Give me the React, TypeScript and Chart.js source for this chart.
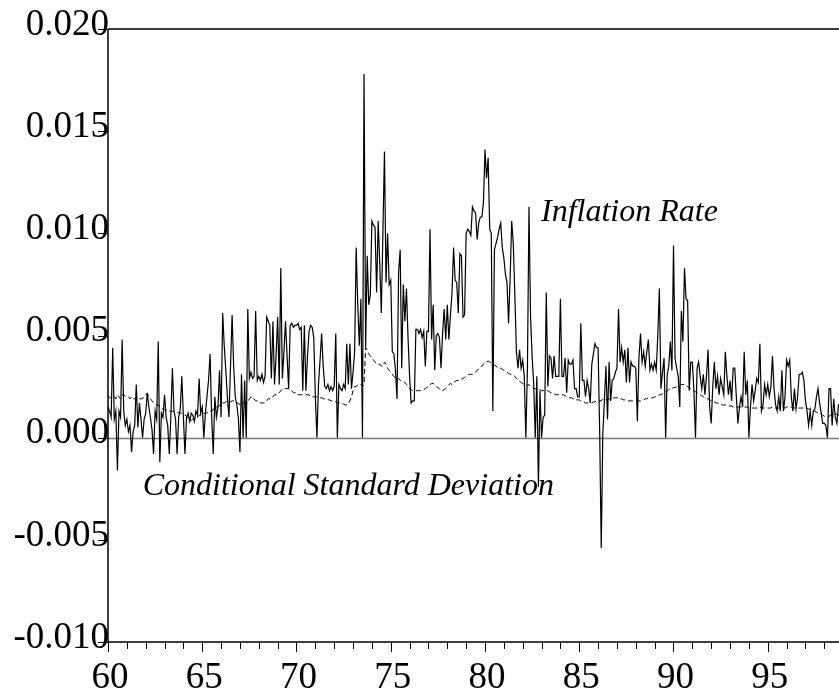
import React, { useEffect, useRef } from "react";
import { Chart, registerables } from "chart.js";

Chart.register(...registerables);

// ---------- axis / tick definitions ----------
const FIRST_YEAR = 60; // monthly data start: 1960:01
const X_MIN = 60;
const X_MAX = 98.78;
const Y_MIN = -0.01;
const Y_MAX = 0.02;
const yTickValues = [-0.01, -0.005, 0, 0.005, 0.01, 0.015, 0.02];
const yTickLabels = ["-0.010", "-0.005", "0.000", "0.005", "0.010", "0.015", "0.020"];
const xTickValues = [60, 65, 70, 75, 80, 85, 90, 95];
const xTickLabels = ["60", "65", "70", "75", "80", "85", "90", "95"];

// ---------- series (values in thousandths, monthly, one row per year) ----------
const inflationPerMille: number[] = [
  1.5, 1.3, 1.0, 4.4, 0.9, 1.3, -1.6, 1.3, 1.0, 4.8, 1.3, 0.6, // 1960
  0.9, 0.3, 0.6, -0.7, 0.3, 0.6, 2.6, 0.5, 1.7, 0.9, 0.0, 0.9, // 1961
  1.2, 2.2, 1.5, 1.0, 0.4, -0.8, 1.3, 0.9, 4.7, -1.2, 1.2, 1.0, // 1962
  2.1, 1.0, 0.6, -0.8, 1.0, 3.4, 1.3, 0.9, -0.8, 1.0, 1.4, 3.0, // 1963
  1.0, -0.8, 1.0, 1.2, 0.8, 1.2, 1.1, 0.8, 1.3, 1.1, 2.9, 1.2, // 1964
  1.5, 0.0, 1.2, 2.0, 2.8, 4.1, 1.0, -0.8, 2.0, 1.0, 1.5, 3.3, // 1965
  1.0, 6.1, 4.5, 3.3, 2.0, 1.0, 3.5, 6.0, 3.5, 2.0, 1.6, 0.95, // 1966
  -0.7, 3.1, 0.0, 2.8, 0.0, 6.3, 2.9, 3.2, 2.9, 3.0, 6.2, 2.8, // 1967
  3.0, 2.8, 3.1, 2.7, 3.0, 5.9, 5.7, 5.5, 2.9, 5.7, 2.6, 4.0, // 1968
  5.9, 2.6, 8.3, 2.9, 4.2, 5.7, 4.0, 2.4, 5.5, 5.6, 5.4, 5.5, // 1969
  5.5, 5.6, 5.3, 5.4, 2.3, 5.5, 2.3, 4.0, 5.2, 5.5, 5.4, 4.9, // 1970
  2.0, 0.0, 2.6, 3.8, 5.1, 3.5, 2.5, 2.4, 2.6, 2.3, 2.5, 2.3, // 1971
  2.5, 5.1, 0.0, 2.6, 2.4, 2.3, 2.6, 2.4, 4.6, 2.6, 4.6, 2.4, // 1972
  3.2, 4.2, 9.3, 6.5, 4.5, 6.8, 0.0, 17.8, 4.4, 8.9, 6.5, 7.0, // 1973
  10.6, 10.4, 10.3, 7.1, 10.6, 8.5, 6.1, 10.0, 14.0, 7.6, 10.0, 7.5, // 1974
  7.7, 4.2, 4.1, 3.3, 1.9, 8.1, 9.2, 3.4, 7.5, 5.7, 7.3, 4.9, // 1975
  3.0, 1.7, 1.8, 1.8, 5.3, 5.3, 5.1, 5.3, 4.9, 5.2, 3.5, 5.2, // 1976
  5.2, 10.2, 4.8, 6.5, 3.3, 5.0, 5.1, 4.9, 3.4, 5.1, 6.3, 4.8, // 1977
  6.5, 4.8, 6.0, 7.1, 9.3, 7.7, 7.6, 6.1, 9.0, 8.9, 5.9, 6.0, // 1978
  10.0, 10.2, 10.1, 9.9, 11.3, 11.1, 11.0, 9.7, 10.5, 10.8, 10.8, 11.5, // 1979
  14.1, 12.7, 13.7, 10.2, 10.0, 1.3, 9.2, 9.5, 9.8, 10.2, 10.5, 9.3, // 1980
  8.8, 8.0, 7.6, 5.6, 7.8, 10.6, 9.5, 7.0, 4.2, 3.4, 4.3, 3.4, // 1981
  3.8, 3.0, 0.0, 3.3, 11.3, 5.9, 4.0, 2.6, 0.0, 3.0, -2.4, 2.3, // 1982
  0.0, 1.0, 1.1, 7.1, 2.5, 4.0, 3.9, 2.9, 4.0, 3.0, 3.0, 3.0, // 1983
  6.8, 3.0, 3.0, 3.9, 2.2, 3.8, 3.6, 3.6, 3.8, 2.4, 2.4, 2.0, // 1984
  2.0, 5.6, 2.8, 2.8, 2.0, 2.8, 2.4, 1.7, 3.6, 4.1, 4.6, 4.4, // 1985
  4.4, 0.3, -5.4, 0.2, 1.8, 3.5, 0.9, 3.7, 1.8, 2.8, 2.9, 3.2, // 1986
  3.4, 6.3, 3.7, 4.4, 3.7, 4.3, 2.7, 4.4, 2.7, 3.7, 3.5, 3.5, // 1987
  3.4, 0.8, 3.9, 5.1, 3.7, 4.2, 3.5, 4.2, 4.8, 3.3, 3.6, 3.3, // 1988
  3.7, 3.3, 5.0, 7.3, 2.4, 3.2, 3.9, 0.0, 3.1, 3.5, 4.7, 3.3, // 1989
  9.4, 3.9, 3.4, 3.0, 1.5, 6.2, 4.7, 8.3, 6.8, 6.7, 2.3, 3.7, // 1990
  3.7, 2.3, 0.0, 3.4, 3.7, 3.0, 2.4, 3.1, 2.1, 3.0, 4.3, 1.5, // 1991
  0.7, 2.5, 3.7, 2.4, 3.0, 2.1, 2.9, 2.5, 2.1, 4.2, 3.0, 2.1, // 1992
  2.8, 1.8, 3.4, 3.4, 2.0, 0.7, 1.5, 2.0, 1.5, 4.2, 2.1, 2.8, // 1993
  0.0, 1.5, 2.6, 1.8, 2.3, 2.9, 2.7, 4.6, 1.3, 1.6, 2.6, 2.1, // 1994
  2.6, 2.0, 2.5, 4.0, 2.4, 1.6, 1.3, 2.0, 1.3, 3.3, 1.3, 2.0, // 1995
  3.8, 3.5, 3.8, 2.0, 1.3, 2.4, 1.4, 2.0, 3.1, 3.1, 3.2, 2.8, // 1996
  1.8, 1.3, 0.6, 1.3, 0.6, 1.3, 1.4, 2.0, 2.4, 1.7, 1.2, 0.7, // 1997
  0.7, 0.6, 0.0, 2.4, 2.4, 0.6, 1.9, 1.0, 0.7, 1.6, 1.5, // 1998
];

const condSdPerMille: number[] = [
  2.0, 2.0, 1.9, 2.0, 2.0, 1.9, 2.1, 2.0, 1.9, 2.1, 2.1, 2.0, // 1960
  2.0, 2.0, 1.9, 2.0, 1.9, 1.9, 2.0, 2.0, 1.9, 1.9, 1.9, 2.0, // 1961
  2.1, 2.15, 2.0, 1.9, 1.8, 1.7, 1.65, 1.6, 1.6, 1.5, 1.45, 1.4, // 1962
  1.37, 1.35, 1.35, 1.3, 1.3, 1.3, 1.28, 1.27, 1.25, 1.22, 1.2, 1.2, // 1963
  1.15, 1.1, 1.05, 0.95, 0.85, 0.85, 0.9, 0.95, 1.0, 1.0, 1.1, 1.1, // 1964
  1.2, 1.2, 1.2, 1.2, 1.3, 1.3, 1.3, 1.4, 1.4, 1.5, 1.5, 1.6, // 1965
  1.6, 1.7, 1.7, 1.75, 1.8, 1.8, 1.75, 1.8, 1.8, 1.75, 1.7, 1.7, // 1966
  1.6, 1.6, 1.7, 1.7, 1.7, 1.7, 1.9, 2.0, 1.9, 1.9, 1.8, 1.8, // 1967
  1.8, 1.7, 1.7, 1.7, 1.7, 1.8, 1.9, 1.9, 2.0, 2.0, 2.1, 2.1, // 1968
  2.1, 2.2, 2.3, 2.4, 2.4, 2.4, 2.4, 2.4, 2.3, 2.3, 2.2, 2.2, // 1969
  2.2, 2.1, 2.1, 2.1, 2.1, 2.1, 2.1, 2.1, 2.1, 2.0, 2.0, 2.0, // 1970
  2.0, 2.0, 1.95, 1.95, 1.95, 1.9, 1.9, 1.9, 1.85, 1.85, 1.8, 1.8, // 1971
  1.8, 1.75, 1.7, 1.7, 1.7, 1.65, 1.65, 1.6, 1.6, 1.65, 1.8, 2.0, // 1972
  2.3, 2.5, 2.5, 2.6, 2.6, 2.6, 2.5, 2.6, 4.4, 4.3, 4.1, 4.0, // 1973
  3.9, 3.8, 3.7, 3.6, 3.6, 3.6, 3.5, 3.5, 3.7, 3.6, 3.4, 3.3, // 1974
  3.2, 3.1, 3.0, 2.9, 2.85, 2.9, 2.8, 2.8, 2.75, 2.7, 2.6, 2.5, // 1975
  2.4, 2.35, 2.3, 2.3, 2.3, 2.3, 2.3, 2.3, 2.3, 2.35, 2.4, 2.45, // 1976
  2.5, 2.6, 2.65, 2.65, 2.6, 2.5, 2.45, 2.4, 2.3, 2.3, 2.35, 2.4, // 1977
  2.5, 2.6, 2.65, 2.6, 2.7, 2.75, 2.8, 2.8, 2.8, 2.85, 2.9, 2.95, // 1978
  3.0, 3.05, 3.1, 3.1, 3.1, 3.15, 3.2, 3.3, 3.35, 3.4, 3.5, 3.6, // 1979
  3.7, 3.7, 3.75, 3.7, 3.65, 3.6, 3.55, 3.5, 3.45, 3.4, 3.4, 3.35, // 1980
  3.3, 3.25, 3.2, 3.15, 3.1, 3.1, 3.05, 3.0, 2.9, 2.8, 2.75, 2.7, // 1981
  2.65, 2.6, 2.6, 2.55, 2.6, 2.5, 2.45, 2.4, 2.4, 2.35, 2.4, 2.35, // 1982
  2.3, 2.3, 2.3, 2.3, 2.3, 2.25, 2.2, 2.2, 2.15, 2.1, 2.1, 2.1, // 1983
  2.1, 2.1, 2.1, 2.05, 2.0, 2.0, 1.95, 1.95, 1.9, 1.9, 1.85, 1.85, // 1984
  1.85, 1.8, 1.8, 1.75, 1.7, 1.7, 1.7, 1.7, 1.7, 1.75, 1.75, 1.8, // 1985
  1.8, 1.8, 1.8, 1.9, 1.9, 1.85, 1.85, 1.9, 1.9, 1.9, 1.95, 1.95, // 1986
  1.95, 1.95, 1.9, 1.9, 1.85, 1.85, 1.8, 1.8, 1.8, 1.8, 1.8, 1.8, // 1987
  1.8, 1.8, 1.8, 1.8, 1.85, 1.85, 1.9, 1.9, 1.95, 1.95, 1.95, 1.95, // 1988
  2.0, 2.0, 2.05, 2.1, 2.1, 2.15, 2.2, 2.25, 2.3, 2.35, 2.4, 2.4, // 1989
  2.45, 2.45, 2.5, 2.5, 2.55, 2.6, 2.6, 2.6, 2.55, 2.5, 2.45, 2.4, // 1990
  2.35, 2.3, 2.25, 2.2, 2.15, 2.1, 2.05, 2.0, 1.95, 1.9, 1.9, 1.85, // 1991
  1.8, 1.8, 1.75, 1.7, 1.7, 1.65, 1.65, 1.6, 1.6, 1.6, 1.55, 1.55, // 1992
  1.55, 1.55, 1.5, 1.5, 1.5, 1.5, 1.5, 1.5, 1.5, 1.5, 1.5, 1.5, // 1993
  1.45, 1.45, 1.45, 1.45, 1.45, 1.45, 1.45, 1.5, 1.45, 1.45, 1.45, 1.45, // 1994
  1.45, 1.45, 1.45, 1.5, 1.45, 1.45, 1.45, 1.45, 1.45, 1.45, 1.45, 1.45, // 1995
  1.5, 1.5, 1.5, 1.5, 1.45, 1.45, 1.45, 1.45, 1.45, 1.45, 1.45, 1.45, // 1996
  1.45, 1.45, 1.4, 1.4, 1.35, 1.3, 1.3, 1.25, 1.2, 1.2, 1.15, 1.1, // 1997
  1.05, 1.0, 1.0, 1.05, 1.1, 1.1, 1.1, 1.15, 1.15, 1.1, 1.1, // 1998
];

// ---------- in-plot labels (anchored in data coordinates) ----------
const annotationTexts = ["Inflation Rate", "Conditional Standard Deviation"];
const annotationYears = [82.97, 61.84];
const annotationValues = [0.0106, -0.0028];

const SERIF = '"Liberation Serif", "Times New Roman", serif';

const toPoints = (arr: number[]) =>
  arr.map((v, k) => ({ x: FIRST_YEAR + k / 12, y: v / 1000 }));

const framePlugin = {
  id: "evFrame",
  beforeDatasetsDraw(chart: any) {
    const { ctx, chartArea, scales } = chart;
    const y0 = Math.round(scales.y.getPixelForValue(0)) + 0.5;
    ctx.save();
    ctx.strokeStyle = "#7a7a7a";
    ctx.lineWidth = 1.5;
    ctx.beginPath();
    ctx.moveTo(chartArea.left, y0);
    ctx.lineTo(chartArea.right, y0);
    ctx.stroke();
    ctx.restore();
  },
  afterDraw(chart: any) {
    const { ctx, chartArea, scales } = chart;
    const { left, right, top, bottom } = chartArea;
    ctx.save();
    ctx.strokeStyle = "#000";
    // y ticks (outward, to the left)
    ctx.lineWidth = 1;
    yTickValues.forEach((v) => {
      const py = Math.round(scales.y.getPixelForValue(v)) + 0.5;
      ctx.beginPath();
      ctx.moveTo(left - 10, py);
      ctx.lineTo(left, py);
      ctx.stroke();
    });
    // x ticks: one per year, longer every 5 years
    for (let yr = Math.ceil(X_MIN); yr <= Math.floor(X_MAX); yr++) {
      const px = Math.round(scales.x.getPixelForValue(yr)) + 0.5;
      const len = yr % 5 === 0 ? 10 : 7;
      ctx.beginPath();
      ctx.moveTo(px, bottom);
      ctx.lineTo(px, bottom + len);
      ctx.stroke();
    }
    // frame: left, top, bottom
    ctx.lineWidth = 1.5;
    ctx.beginPath();
    ctx.moveTo(left, top);
    ctx.lineTo(left, bottom);
    ctx.moveTo(left, top);
    ctx.lineTo(right, top);
    ctx.moveTo(left, bottom);
    ctx.lineTo(right, bottom);
    ctx.stroke();
    // annotations
    ctx.fillStyle = "#000";
    ctx.font = `italic 32px ${SERIF}`;
    ctx.textAlign = "left";
    ctx.textBaseline = "alphabetic";
    annotationTexts.forEach((t, i) => {
      ctx.fillText(
        t,
        scales.x.getPixelForValue(annotationYears[i]),
        scales.y.getPixelForValue(annotationValues[i])
      );
    });
    ctx.restore();
  },
};

export default function App() {
  const canvasRef = useRef<HTMLCanvasElement | null>(null);

  useEffect(() => {
    document.body.style.margin = "0";
    const canvas = canvasRef.current;
    if (!canvas) return;
    const chart = new Chart(canvas, {
      type: "line",
      data: {
        datasets: [
          {
            label: "Inflation Rate",
            data: toPoints(inflationPerMille),
            borderColor: "#000",
            borderWidth: 1.2,
            pointRadius: 0,
            tension: 0,
            fill: false,
          },
          {
            label: "Conditional Standard Deviation",
            data: toPoints(condSdPerMille),
            borderColor: "#000",
            borderWidth: 1,
            borderDash: [5, 3],
            pointRadius: 0,
            tension: 0,
            fill: false,
          },
        ],
      },
      options: {
        responsive: false,
        animation: false,
        devicePixelRatio: 1,
        parsing: false as any,
        normalized: true,
        layout: { padding: { top: 29, left: 0, right: 0, bottom: 0 } },
        plugins: {
          legend: { display: false },
          tooltip: { enabled: false },
        },
        scales: {
          x: {
            type: "linear",
            min: X_MIN,
            max: X_MAX,
            grid: { display: false, drawTicks: false },
            border: { display: false },
            afterBuildTicks: (s: any) => {
              s.ticks = xTickValues.map((v) => ({ value: v }));
            },
            afterFit: (s: any) => {
              s.height = 56;
            },
            ticks: {
              autoSkip: false,
              maxRotation: 0,
              padding: 14,
              labelOffset: 2,
              color: "#000",
              font: { family: SERIF, size: 37 },
              callback: (v: any) => xTickLabels[xTickValues.indexOf(Number(v))] ?? "",
            },
          },
          y: {
            type: "linear",
            min: Y_MIN,
            max: Y_MAX,
            grid: { display: false, drawTicks: false },
            border: { display: false },
            afterBuildTicks: (s: any) => {
              s.ticks = yTickValues.map((v) => ({ value: v }));
            },
            afterFit: (s: any) => {
              s.width = 108;
            },
            ticks: {
              padding: -1,
              labelOffset: -4,
              color: "#000",
              font: { family: SERIF, size: 37 },
              callback: (v: any) => {
                const i = yTickValues.findIndex((t) => Math.abs(t - Number(v)) < 1e-9);
                return i >= 0 ? yTickLabels[i] : "";
              },
            },
          },
        },
      },
      plugins: [framePlugin],
    } as any);
    return () => chart.destroy();
  }, []);

  return (
    <div style={{ width: 839, height: 698, position: "relative", background: "#fff" }}>
      <canvas ref={canvasRef} width={839} height={698} style={{ display: "block" }} />
    </div>
  );
}
